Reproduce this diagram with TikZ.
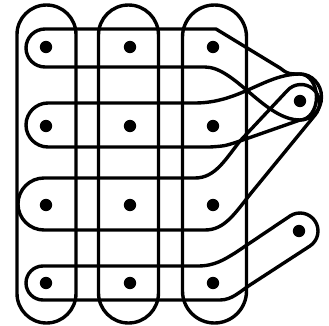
\documentclass[tikz,border=0pt]{standalone}
\usetikzlibrary{calc}
\tikzset{
  blob/.style={circle, fill=black, inner sep=0pt, minimum size=3.7mm},
  hedge/.style={draw=black, line width=2.9pt, line join=round},
}
\begin{document}
\begin{tikzpicture}[x=0.03cm, y=0.03cm]
  \useasboundingbox (0,0) rectangle (329,325);
  % vertices
  \node[blob] (a1) at (46,278) {};
  \node[blob] (a2) at (130,278) {};
  \node[blob] (a3) at (213,278) {};
  \node[blob] (b1) at (46,199) {};
  \node[blob] (b2) at (130,199) {};
  \node[blob] (b3) at (213,199) {};
  \node[blob] (c1) at (46,120) {};
  \node[blob] (c2) at (130,120) {};
  \node[blob] (c3) at (213,120) {};
  \node[blob] (d1) at (46,42) {};
  \node[blob] (d2) at (130,42) {};
  \node[blob] (d3) at (213,42) {};
  \node[blob] (u) at (300,224) {};
  \node[blob] (l) at (299,94) {};
  % cap centres on the right
  \coordinate (ucap) at (300,228);
  \coordinate (ucapc) at (301,222);
  \coordinate (lcap) at (300,94);
  % columns
  \draw[hedge] (17,31.5) -- (17,290.5) arc[start angle=180, end angle=0, radius=29.5]
    -- (76,31.5) arc[start angle=0, end angle=-180, radius=29.5] -- cycle;
  \draw[hedge] (98.5,32) -- (98.5,290) arc[start angle=180, end angle=0, radius=30]
    -- (158.5,32) arc[start angle=0, end angle=-180, radius=30] -- cycle;
  \draw[hedge] (182.5,34) -- (182.5,288) arc[start angle=180, end angle=0, radius=32]
    -- (246.5,34) arc[start angle=0, end angle=-180, radius=32] -- cycle;
  % rows
  \draw[hedge] (45,296) -- (216,296) -- (280,257) .. controls (288,251) .. ($(ucap)+(0,23)$)
    arc[start angle=90, end angle=-90, x radius=21.5, y radius=23]
    .. controls (265,205) and (235,258) .. (205,258) -- (45,258)
    arc[start angle=-90, end angle=-270, radius=19] -- cycle;
  \draw[hedge] (48,222) -- (195,222) .. controls (240,222) and (265,251) .. ($(ucap)+(0,23)$)
    arc[start angle=90, end angle=-90, x radius=16.5, y radius=23]
    -- (240,184) .. controls (225,179) .. (210,178) -- (48,178)
    arc[start angle=-90, end angle=-270, radius=22] -- cycle;
  \draw[hedge] (44,147) -- (195,147) .. controls (215,147) and (225,165) .. (240,184)
    -- ($(ucapc)+(140:18.5)$) arc[start angle=140, end angle=-40, radius=18.5]
    -- (252,133) .. controls (235,112) and (225,95) .. (205,95) -- (44,95)
    arc[start angle=-90, end angle=-270, radius=26] -- cycle;
  \draw[hedge] (43,59) -- (198,59) .. controls (215,59) and (225,66) .. (235,72)
    -- ($(lcap)+(123:18)$) arc[start angle=123, end angle=-57, radius=18]
    -- (250,40) .. controls (240,33.5) and (232,25) .. (220,25) -- (43,25)
    arc[start angle=-90, end angle=-270, radius=17] -- cycle;
\end{tikzpicture}
\end{document}
